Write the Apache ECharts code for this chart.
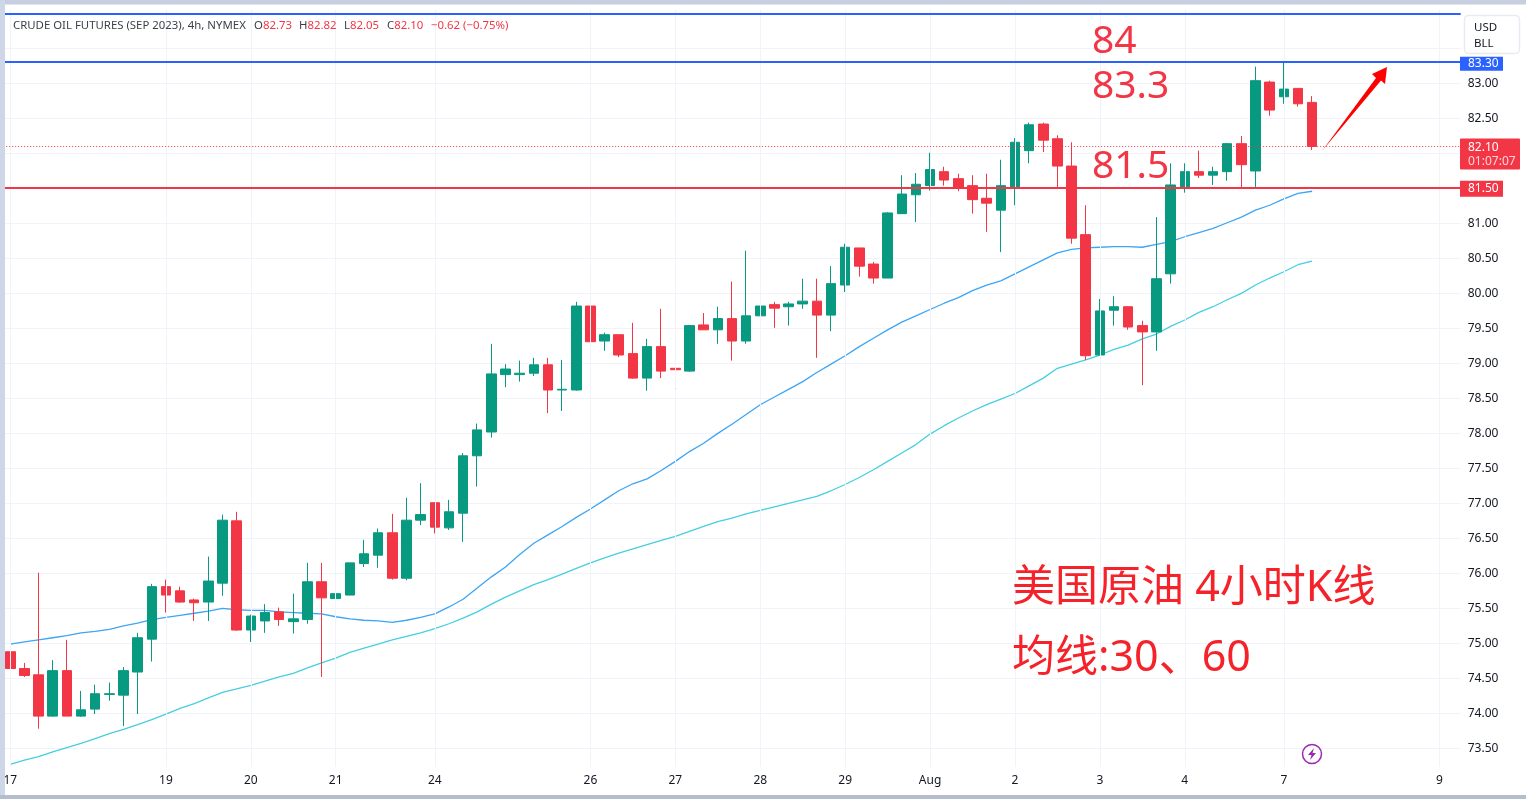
<!DOCTYPE html>
<html>
<head>
<meta charset="utf-8">
<title>CRUDE OIL FUTURES</title>
<script src="https://cdn.jsdelivr.net/npm/echarts@6/dist/echarts.min.js"></script>
<style>
html, body { margin: 0; padding: 0; background: #fff; }
#chart { width: 1526px; height: 799px; }
</style>
</head>
<body>
<div id="chart"></div>
<script>
// 4h candles
var opens = [74.88,74.64,74.55,73.96,74.61,73.96,74.06,74.27,74.26,74.59,
    75.06,75.81,75.75,75.62,75.59,75.86,76.75,75.19,75.32,75.45,
    75.31,75.34,75.88,75.64,75.69,76.14,76.26,76.58,75.93,76.76,
    77.01,76.65,76.86,77.68,78.02,78.84,78.84,78.86,78.98,78.62,
    78.62,79.82,79.32,79.41,79.14,78.79,79.24,78.93,78.89,79.55,
    79.48,79.64,79.32,79.68,79.84,79.81,79.85,79.89,79.69,80.12,
    80.65,80.42,80.22,81.14,81.41,81.54,81.74,81.64,81.54,81.36,
    81.19,81.50,82.04,82.42,82.21,81.82,80.84,79.12,79.76,79.81,
    79.54,79.45,80.28,81.52,81.74,81.69,81.74,82.14,81.75,83.02,
    82.81,82.93,82.73];
var closes = [74.64,74.54,73.96,74.61,73.96,74.05,74.28,74.28,74.61,75.08,
    75.81,75.69,75.59,75.58,75.89,76.76,75.19,75.39,75.44,75.34,
    75.35,75.88,75.65,75.71,76.15,76.28,76.58,75.93,76.76,76.84,
    76.66,76.88,77.68,78.05,78.85,78.92,78.86,78.98,78.62,78.63,
    79.82,79.31,79.41,79.12,78.79,79.24,78.89,78.91,79.54,79.48,
    79.64,79.32,79.68,79.82,79.79,79.85,79.89,79.69,80.14,80.66,
    80.39,80.22,81.15,81.42,81.56,81.77,81.62,81.51,81.34,81.29,
    81.54,82.16,82.41,82.19,81.82,80.79,79.11,79.75,79.81,79.52,
    79.45,80.21,81.55,81.74,81.69,81.74,82.14,81.84,83.04,82.62,
    82.92,82.71,82.10];
var lows = [74.52,74.52,73.78,73.95,73.96,73.95,73.99,74.18,73.82,73.99,
    74.74,75.44,75.58,75.32,75.32,75.68,75.18,75.02,75.15,75.25,
    75.14,75.28,74.52,75.38,75.69,76.09,76.08,75.91,75.90,76.69,
    76.57,76.62,76.45,77.24,77.94,78.66,78.74,78.82,78.29,78.32,
    78.61,79.29,79.18,79.09,78.78,78.61,78.79,78.55,78.88,79.48,
    79.28,79.04,79.28,79.54,79.51,79.54,79.78,79.08,79.46,80.02,
    80.24,80.14,80.22,81.14,81.02,81.47,81.54,81.46,81.14,80.88,
    80.59,81.26,81.86,82.02,81.50,80.71,79.05,79.12,79.54,79.48,
    78.69,79.18,80.14,81.44,81.65,81.55,81.61,81.50,81.52,82.54,
    82.71,82.67,82.05];
var highs = [75.05,74.72,76.01,74.76,75.05,74.32,74.41,74.44,74.66,75.15,
    75.85,75.91,75.81,75.64,76.24,76.84,76.88,75.41,75.56,75.51,
    75.71,76.15,76.15,75.88,76.15,76.48,76.64,76.85,77.08,77.29,
    77.02,77.05,77.72,78.14,79.28,78.99,79.04,79.08,79.08,79.05,
    79.88,79.91,79.44,79.41,79.58,79.35,79.78,79.05,79.54,79.72,
    79.81,80.17,80.61,80.21,79.88,79.88,80.21,80.21,80.39,80.71,
    80.65,80.45,81.16,81.69,81.72,82.01,81.81,81.71,81.69,81.71,
    81.91,82.22,82.44,82.44,82.26,82.16,81.26,79.92,79.96,79.82,
    79.61,81.09,81.86,81.86,82.04,81.81,82.15,82.25,83.24,83.04,
    83.31,82.93,82.82];

// 均线
var ma30 = [74.99,75.02,75.05,75.08,75.11,75.15,75.17,75.20,75.25,75.29,
    75.34,75.37,75.40,75.43,75.46,75.50,75.48,75.47,75.47,75.45,
    75.44,75.43,75.42,75.38,75.35,75.33,75.32,75.30,75.33,75.37,
    75.42,75.52,75.63,75.79,75.95,76.09,76.27,76.43,76.55,76.67,
    76.80,76.92,77.05,77.18,77.28,77.35,77.47,77.60,77.74,77.86,
    78.00,78.13,78.27,78.41,78.52,78.63,78.74,78.87,78.99,79.11,
    79.24,79.36,79.48,79.59,79.68,79.77,79.86,79.94,80.04,80.12,
    80.18,80.28,80.38,80.48,80.58,80.63,80.65,80.66,80.67,80.67,
    80.66,80.70,80.74,80.81,80.87,80.93,81.01,81.09,81.19,81.26,
    81.35,81.43,81.46];
var ma60 = [73.27,73.33,73.38,73.45,73.51,73.57,73.64,73.71,73.77,73.84,
    73.91,73.99,74.07,74.14,74.22,74.30,74.35,74.40,74.46,74.52,
    74.57,74.65,74.72,74.79,74.87,74.93,74.99,75.05,75.10,75.15,
    75.21,75.28,75.36,75.45,75.56,75.66,75.75,75.84,75.91,75.99,
    76.07,76.15,76.22,76.29,76.35,76.41,76.47,76.53,76.60,76.67,
    76.74,76.79,76.85,76.90,76.95,77.00,77.05,77.10,77.18,77.27,
    77.37,77.48,77.60,77.72,77.84,77.99,78.11,78.22,78.32,78.41,
    78.49,78.57,78.68,78.79,78.93,78.99,79.05,79.12,79.20,79.26,
    79.35,79.42,79.53,79.62,79.73,79.81,79.91,80.00,80.12,80.22,
    80.31,80.41,80.46];

var dayIndex = [0,11,17,23,30,41,47,53,59,65,71,77,83,90,101];
var dayLabels = ['17','19','20','21','24','26','27','28','29','Aug','2','3','4','7','9'];
var barSlots = 103;
var priceGrid = [73.5,74,74.5,75,75.5,76,76.5,77,77.5,78,78.5,79,79.5,80,80.5,81,81.5,82,82.5,83,83.5,84];
var priceLabels = [73.5,74,74.5,75,75.5,76,76.5,77,77.5,78,78.5,79,79.5,80,80.5,81,82.5,83];
var levelBlue = [84, 83.31];
var levelRed = 81.51;
var lastPrice = 82.10;

var titleText = 'CRUDE OIL FUTURES (SEP 2023), 4h, NYMEX';
var ohlcText = [['O','82.73',254],['H','82.82',299],['L','82.05',344],['C','82.10',387]];
var changeText = '\u22120.62 (\u22120.75%)';

var RED = '#f23645', GREEN = '#089981', BLUE = '#2962ff';
var FONT = '"Noto Sans", "Noto Sans CJK SC", sans-serif';

var myChart = echarts.init(document.getElementById('chart'));

var categories = [], candles = [];
for (var i = 0; i < barSlots; i++) {
    var k = dayIndex.indexOf(i);
    categories.push(k >= 0 ? dayLabels[k] : '');
}
for (var i = 0; i < opens.length; i++) {
    candles.push([opens[i], closes[i], lows[i], highs[i]]);
}

var option = {
    animation: false,
    backgroundColor: '#fff',
    textStyle: { fontFamily: FONT },
    grid: { left: 3.2, right: 65.3, top: 10, bottom: 32 },
    xAxis: {
        type: 'category',
        data: categories,
        boundaryGap: true,
        axisLine: { show: false },
        axisTick: { show: false },
        splitLine: { show: false },
        axisLabel: {
            interval: function (idx, val) { return val !== ''; },
            color: '#131722', fontSize: 12, margin: 8, fontFamily: FONT
        }
    },
    yAxis: {
        type: 'value',
        position: 'right',
        min: 73.233,
        max: 84.05,
        axisLine: { show: false },
        axisTick: { show: false, customValues: priceGrid },
        splitLine: { show: true, lineStyle: { color: '#f0f3fa', width: 1 } },
        axisLabel: {
            customValues: priceLabels,
            color: '#131722', fontSize: 12, margin: 7, fontFamily: FONT,
            padding: [4, 0, 0, 0],
            showMinLabel: true, showMaxLabel: true,
            formatter: function (v) { return v.toFixed(2); }
        }
    },
    series: [
        {
            // 竖向网格线
            type: 'line', data: [], z: 0, silent: true,
            markLine: {
                silent: true, symbol: 'none', label: { show: false }, animation: false,
                lineStyle: { color: '#f0f3fa', width: 1, type: 'solid' },
                data: dayIndex.map(function (d) { return { xAxis: d }; })
            }
        },
        {
            type: 'line', data: [], z: 1, silent: true,
            markLine: {
                silent: true, symbol: 'none', label: { show: false }, animation: false,
                lineStyle: { color: RED, width: 1, type: [1, 2] },
                data: [{ yAxis: lastPrice }]
            }
        },
        {
            name: 'MA30', type: 'line', data: ma30, z: 2, symbol: 'none', silent: true,
            lineStyle: { color: '#3da5f4', width: 1.3 }
        },
        {
            name: 'MA60', type: 'line', data: ma60, z: 2, symbol: 'none', silent: true,
            lineStyle: { color: '#45cfe0', width: 1.3 }
        },
        {
            name: 'CL', type: 'candlestick', data: candles, z: 3, barWidth: 10, silent: true,
            itemStyle: { color: GREEN, color0: RED, borderColor: GREEN, borderColor0: RED, borderWidth: 1 }
        },
        {
            type: 'line', data: [], z: 5, silent: true,
            markLine: {
                silent: true, symbol: 'none', label: { show: false }, animation: false,
                data: [
                    { yAxis: levelBlue[0], lineStyle: { color: BLUE, width: 2, type: 'solid' } },
                    { yAxis: levelBlue[1], lineStyle: { color: BLUE, width: 2, type: 'solid' } },
                    { yAxis: levelRed, lineStyle: { color: RED, width: 2, type: 'solid' } }
                ]
            }
        }
    ]
};
myChart.setOption(option);

// 标注、价格标签、边框
function noteText(str, x, y, size, color) {
    return {
        type: 'text', z: 60, x: x, y: y,
        style: { text: str, fill: color, font: size + 'px ' + FONT, textVerticalAlign: 'middle' }
    };
}
function box(x, y, w, h, fill, r) {
    return { type: 'rect', z: 50, shape: { x: x, y: y, width: w, height: h, r: r || 0 }, style: { fill: fill } };
}

var py = function (v) { return myChart.convertToPixel({ yAxisIndex: 0 }, v); };
var y833 = py(levelBlue[1]), y815 = py(levelRed), y821 = py(lastPrice);

var items = [
    box(0, 0, 1526, 4.5, '#c5cfe0'),
    box(0, 0, 5, 799, '#cdd7e8'),
    box(0, 795, 1526, 4, '#b4bdce'),
    noteText(titleText, 13, 26, 11.4, '#3b3f4a'),
    noteText(changeText, 431, 26, 11.4, RED),
    noteText('84', 1092, 42, 39, RED),
    noteText('83.3', 1092, 87, 39, RED),
    noteText('81.5', 1092, 167, 39, RED),
    noteText('美国原油 4小时K线', 1012, 589, 43, '#f5222a'),
    noteText('均线:30、60', 1012, 659, 43, '#f5222a'),
    // 手绘箭头
    { type: 'polygon', z: 60,
      shape: { points: [[1322, 151], [1376, 78], [1372, 74], [1387, 67], [1385, 84], [1381, 80.5]] },
      style: { fill: '#ff0000' } },
    // 价格标签
    box(1460, y833 - 5, 43, 14, BLUE),
    noteText('83.30', 1468, y833 + 1.5, 12, '#fff'),
    box(1460, y821 - 8, 60, 31, RED, 1),
    noteText('82.10', 1468, y821 + 1, 12, '#fff'),
    noteText('01:07:07', 1468, y821 + 15, 12, '#ffd6da'),
    box(1460, y815 - 7, 43, 16, RED),
    noteText('81.50', 1468, y815 + 1, 12, '#fff'),
    // USD / BLL
    { type: 'rect', z: 55, shape: { x: 1464.5, y: 15.5, width: 55, height: 38, r: 4 },
      style: { fill: '#fff', stroke: '#e8ebf2', lineWidth: 1.5 } },
    noteText('USD', 1474, 27.5, 11.5, '#131722'),
    noteText('BLL', 1474, 43.5, 11.5, '#131722'),
    // 闪电图标
    { type: 'circle', z: 60, shape: { cx: 1312, cy: 754, r: 9.5 },
      style: { fill: '#fff', stroke: '#9c27b0', lineWidth: 1.5 } },
    { type: 'polygon', z: 61,
      shape: { points: [[1314, 748], [1308, 755], [1311.5, 755], [1310, 760], [1316, 753], [1312.5, 753]] },
      style: { fill: '#9c27b0' } }
];
ohlcText.forEach(function (o) {
    items.push({
        type: 'text', z: 60, x: o[2], y: 26,
        style: {
            text: '{a|' + o[0] + '}{b|' + o[1] + '}', textVerticalAlign: 'middle',
            rich: {
                a: { fill: '#3b3f4a', font: '11.4px ' + FONT },
                b: { fill: RED, font: '11.4px ' + FONT }
            }
        }
    });
});
myChart.setOption({ graphic: { elements: items } });
</script>
</body>
</html>
